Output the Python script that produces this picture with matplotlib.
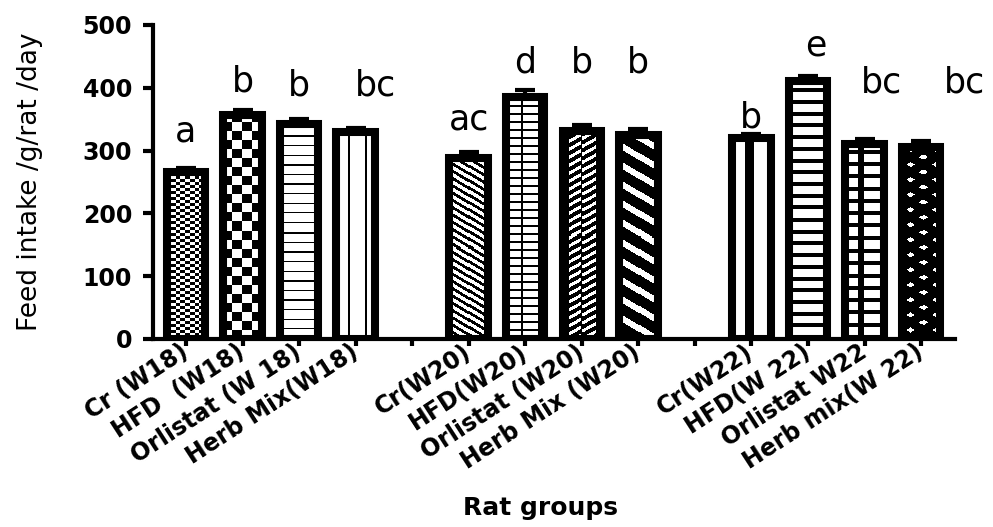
import numpy as np
import matplotlib
matplotlib.use("Agg")
import matplotlib.pyplot as plt
from matplotlib import font_manager

# ---- data -------------------------------------------------------------
tick_labels = ["Cr (W18)", "HFD  (W18)", "Orlistat (W 18)", "Herb Mix(W18)", "",
               "Cr(W20)", "HFD(W20)", "Orlistat (W20)", "Herb Mix (W20)", "",
               "Cr(W22)", "HFD(W 22)", "Orlistat W22", "Herb mix(W 22)"]
bar_slots = [0, 1, 2, 3, 5, 6, 7, 8, 10, 11, 12, 13]
feed_intake = [266, 357, 343, 329, 289, 385, 332, 325, 320, 411, 311, 305]
sem = [6, 8, 7, 7, 9, 11, 9, 9, 7, 8, 8, 11]
letters = ["a", "b", "b", "bc", "ac", "d", "b", "b", "b", "e", "bc", "bc"]

# letter placement (x shift in slot units, baseline height in data units)
letter_dx = [0, 0, 0, 0.35, 0, 0, 0, 0, 0, 0.14, 0.3, 0.76]
letter_y = [314, 394, 388, 388, 334, 425, 425, 425, 337, 452, 392, 392]


# ---- fill patterns (pixel coordinates inside each bar) -----------------
def checker(sx, sy):
    return lambda x, y: ((np.floor(x / sx) + np.floor(y / sy)) % 2).astype(bool)


def hlines(period, width, y0=0.0):
    return lambda x, y: ((y - y0) % period) < width


def vlines(period, width, x0=0.0):
    return lambda x, y: ((x - x0) % period) < width


def diag(period, width, slope):
    return lambda x, y: ((y + slope * x) % period) < width


def grid(hp, hw, vp, vw, x0):
    h = hlines(hp, hw)
    v = vlines(vp, vw, x0)
    return lambda x, y: h(x, y) | v(x, y)


def herringbone(x, y):
    col = np.floor((x - 4) / 14)
    white = ((y - 0.55 * x + col * 4) % 8) < 3.5
    white &= ((x - 4) % 14) > 1.6
    return ~white


def diamonds(x, y):
    hx, py = 12.5, 15.0
    col = np.round((x - 8.7) / hx)
    cx = 8.7 + col * hx
    yoff = 9 + (col % 2) * 7.5
    cy = yoff + np.round((y - yoff) / py) * py
    white = np.abs(x - cx) / 4.2 + np.abs(y - cy) / 2.6 < 1
    return ~white


patterns = [
    checker(4.5, 3.0),
    checker(9.5, 9.0),
    hlines(9.6, 1.3),
    vlines(16, 2.0, 12),
    diag(7.3, 3.3, 0.6),
    grid(8, 1.5, 16, 2.0, 15),
    herringbone,
    lambda x, y: ~(((y + 0.6 * x) % 19) < 7),
    vlines(21, 8, 13),
    hlines(11.7, 4.0),
    grid(12.3, 4.0, 21, 5.5, 13.5),
    diamonds,
]

# ---- fonts ------------------------------------------------------------
installed = {f.name for f in font_manager.fontManager.ttflist}
if "Liberation Sans Narrow" in installed:
    ylabel_font, ylabel_size = "Liberation Sans Narrow", 26
elif "DejaVu Sans Condensed" in installed:
    ylabel_font, ylabel_size = "DejaVu Sans Condensed", 21
else:
    ylabel_font, ylabel_size = "DejaVu Sans", 19

# ---- figure -----------------------------------------------------------
fig = plt.figure(figsize=(9.93, 5.27), dpi=100)
ax = fig.add_axes([153 / 993, 188 / 527, 802 / 993, 314 / 527])

XLIM = (-0.583, 13.6)
YLIM = (0, 500)
ax.set_xlim(*XLIM)
ax.set_ylim(*YLIM)

bars = ax.bar(bar_slots, feed_intake, width=0.68, facecolor="none",
              edgecolor="black", linewidth=5.8, zorder=3)

px_x = ax.transData.transform((1, 0))[0] - ax.transData.transform((0, 0))[0]
px_y = ax.transData.transform((0, 1))[1] - ax.transData.transform((0, 0))[1]

for rect, fill in zip(bars.patches, patterns):
    x0, w, h = rect.get_x(), rect.get_width(), rect.get_height()
    w_px, h_px = w * px_x, h * px_y
    ncols = max(1, int(round(w_px)))
    nrows = max(1, int(round(h_px)))
    xs = (np.arange(ncols) + 0.5) * w_px / ncols
    ys = h_px - (np.arange(nrows) + 0.5) * h_px / nrows
    X, Y = np.meshgrid(xs, ys)
    img = np.where(fill(X, Y), 0.0, 1.0)
    ax.imshow(img, cmap="gray", vmin=0, vmax=1, extent=(x0, x0 + w, 0, h),
              aspect="auto", interpolation="nearest", zorder=2)

ax.errorbar(bar_slots, feed_intake, yerr=[np.zeros(len(sem)), sem], fmt="none",
            ecolor="black", elinewidth=3, capsize=7.5, capthick=3, zorder=4)

for xs_, dx, yy, lab in zip(bar_slots, letter_dx, letter_y, letters):
    ax.text(xs_ + dx, yy, lab, ha="center", va="baseline",
            fontsize=25, family="DejaVu Sans", color="black")

ax.set_xlim(*XLIM)
ax.set_ylim(*YLIM)

# ---- axes styling -----------------------------------------------------
for side in ("top", "right"):
    ax.spines[side].set_visible(False)
for side in ("left", "bottom"):
    ax.spines[side].set_linewidth(3)

ax.set_yticks([0, 100, 200, 300, 400, 500])
ax.tick_params(axis="y", width=3, length=7, pad=8, labelsize=17)
ax.tick_params(axis="x", width=3, length=5, pad=3)
for t in ax.get_yticklabels():
    t.set_fontweight("bold")

ax.set_xticks(range(len(tick_labels)))
ax.set_xticklabels(tick_labels, rotation=33, ha="right", va="center",
                   rotation_mode="anchor", fontsize=17, fontweight="bold")

ax.set_ylabel("Feed intake /g/rat /day", family=ylabel_font, fontsize=ylabel_size)
ax.yaxis.set_label_coords(-0.137, 0.5)
ax.set_xlabel("Rat groups", fontsize=18, fontweight="bold")
ax.xaxis.set_label_coords(0.483, -0.5)

fig.savefig("out.png", dpi=100)
